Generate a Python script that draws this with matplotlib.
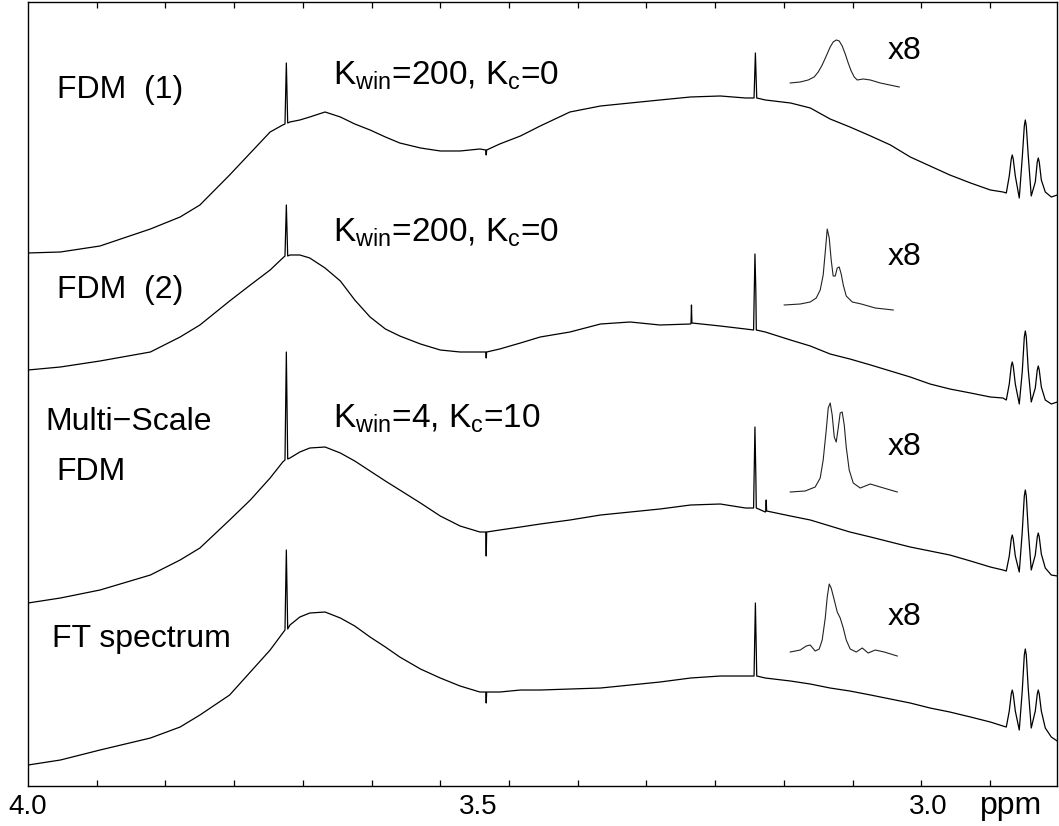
import numpy as np
import matplotlib
matplotlib.use("Agg")
import matplotlib.pyplot as plt

plt.rcParams['font.family'] = ['Liberation Sans', 'DejaVu Sans']
plt.rcParams['mathtext.fontset'] = 'custom'
plt.rcParams['mathtext.rm'] = 'Liberation Sans'
plt.rcParams['mathtext.it'] = 'Liberation Sans'

# chemical shift grid (ppm) shared by the four broad traces
ppm = [4.000, 3.964, 3.920, 3.864, 3.831, 3.809, 3.776, 3.753, 3.731, 3.717,
       3.709, 3.698, 3.687, 3.670, 3.653, 3.637, 3.620, 3.603, 3.587, 3.564,
       3.542, 3.520, 3.498, 3.476, 3.453, 3.431, 3.398, 3.364, 3.331, 3.298,
       3.264, 3.231, 3.203, 3.181, 3.153, 3.131, 3.109, 3.087, 3.064, 3.042,
       3.020, 2.998, 2.976, 2.953, 2.931, 2.917,
       2.9133, 2.9100, 2.9078, 2.9067, 2.9056, 2.9033, 2.8989, 2.8956, 2.8933,
       2.8922, 2.8911, 2.8889, 2.8856, 2.8811, 2.8789, 2.8778, 2.8767, 2.8744,
       2.8700, 2.8633, 2.8567]

# traces (already stacked, arbitrary intensity units)
fdm1 = [533, 534, 540, 557, 569, 581, 611, 633, 654, 661,
        664, 666, 669, 674, 669, 662, 656, 649, 643, 638,
        635, 635, 637, 642, 650, 660, 674, 680, 683, 686,
        689, 690, 688, 686, 683, 678, 667, 659, 650, 641,
        629, 620, 611, 603, 596, 594,
        593, 610, 627, 631, 627, 610, 588, 628, 660, 666, 660, 630, 590, 604,
        624, 628, 624, 606, 594, 589, 591]
fdm2 = [416, 419, 425, 434, 449, 461, 485, 501, 516, 528,
        531, 531, 528, 518, 505, 486, 469, 457, 450, 442,
        436, 434, 434, 437, 443, 449, 454, 462, 464, 461,
        462, 460, 457, 454, 446, 440, 432, 427, 421, 415,
        409, 402, 397, 393, 389, 388,
        386, 402, 420, 424, 420, 402, 382, 414, 449, 455, 449, 416, 384, 398,
        416, 420, 416, 399, 386, 382, 384]
msfdm = [183, 188, 196, 211, 226, 238, 266, 286, 308, 324,
         328, 334, 338, 339, 333, 325, 315, 305, 296, 283,
         270, 260, 254, 256, 259, 262, 266, 271, 274, 277,
         281, 282, 278, 274, 270, 266, 260, 254, 249, 244,
         239, 235, 231, 225, 219, 216,
         215, 230, 247, 251, 247, 230, 214, 254, 290, 296, 290, 256, 216, 231,
         249, 253, 249, 232, 218, 211, 210]
ft = [21, 26, 36, 48, 59, 71, 91, 114, 136, 153,
      161, 169, 173, 174, 168, 160, 149, 139, 129, 117,
      108, 100, 94, 94, 96, 96, 97, 98, 101, 104,
      108, 110, 110, 108, 105, 102, 98, 95, 91, 87,
      83, 78, 74, 69, 64, 60,
      59, 75, 92, 96, 92, 75, 56, 95, 131, 137, 131, 97, 58, 75,
      92, 96, 92, 75, 58, 49, 45]

# narrow lines (spikes / dips) for each trace
spk1_ppm = [3.7145, 3.713, 3.7115, 3.4915, 3.491, 3.4905, 3.1935, 3.192, 3.1905]
spk1_val = [662, 723, 663, 636, 631, 636, 688, 733, 688]
spk2_ppm = [3.7145, 3.713, 3.7115, 3.4915, 3.491, 3.4905, 3.2635, 3.263, 3.2625,
            3.194, 3.1925, 3.1915, 3.191]
spk2_val = [530, 581, 530, 434, 428, 434, 463, 481, 463, 456, 532, 495, 456]
spk3_ppm = [3.7145, 3.713, 3.7115, 3.4915, 3.491, 3.4905, 3.194, 3.1925, 3.1915,
            3.191, 3.1805, 3.180, 3.1795]
spk3_val = [326, 434, 327, 254, 230, 254, 278, 359, 310, 278, 275, 286, 275]
spk4_ppm = [3.7145, 3.713, 3.7115, 3.4915, 3.491, 3.4905, 3.1935, 3.192, 3.1905]
spk4_val = [156, 236, 157, 94, 83, 94, 110, 183, 110]

# x8 expansions
ins1_ppm = [3.1533, 3.1422, 3.1333, 3.1267, 3.1222, 3.1178, 3.1133, 3.1089, 3.1056,
            3.1022, 3.0989, 3.0956, 3.0922, 3.0889, 3.0856, 3.0822, 3.0789, 3.0722,
            3.0644, 3.0533, 3.0322]
ins1_val = [703, 704, 706, 709, 714, 721, 730, 739, 744, 746, 745, 740, 732, 723,
            715, 709, 706, 707, 706, 703, 699]
ins2_ppm = [3.1600, 3.1422, 3.1311, 3.1244, 3.1200, 3.1167, 3.1144, 3.1122, 3.1100,
            3.1078, 3.1056, 3.1033, 3.1011, 3.0989, 3.0967, 3.0944, 3.0911, 3.0844,
            3.0744, 3.0589, 3.0389]
ins2_val = [481, 482, 484, 488, 496, 511, 534, 557, 548, 526, 510, 510, 518, 519,
            512, 501, 490, 484, 482, 478, 476]
ins3_ppm = [3.1533, 3.1367, 3.1256, 3.1200, 3.1167, 3.1133, 3.1111, 3.1089, 3.1067,
            3.1044, 3.1022, 3.1000, 3.0978, 3.0956, 3.0933, 3.0911, 3.0878, 3.0833,
            3.0756, 3.0644, 3.0533, 3.0344]
ins3_val = [294, 295, 299, 308, 326, 356, 378, 383, 371, 349, 344, 358, 373, 374,
            361, 339, 316, 303, 298, 302, 299, 294]
ins4_ppm = [3.1533, 3.1422, 3.1356, 3.1311, 3.1256, 3.1211, 3.1178, 3.1144, 3.1122,
            3.1100, 3.1078, 3.1044, 3.1011, 3.0978, 3.0944, 3.0911, 3.0867, 3.0800,
            3.0733, 3.0667, 3.0589, 3.0489, 3.0344]
ins4_val = [134, 136, 140, 141, 135, 137, 146, 168, 189, 202, 198, 186, 174, 168,
            158, 146, 137, 134, 138, 133, 136, 134, 130]

names = ["FDM  (1)", "FDM  (2)", "Multi\u2212Scale", "FT spectrum"]
params = ["K$_{\\rm win}$=200, K$_{\\rm c}$=0", "K$_{\\rm win}$=200, K$_{\\rm c}$=0",
          "K$_{\\rm win}$=4, K$_{\\rm c}$=10"]
tick_ppm = [4.0, 3.5, 3.0]
tick_lab = ["4.0", "3.5", "3.0"]


def merge(xa, ya, xb, yb):
    x = np.concatenate([xa, xb])
    y = np.concatenate([ya, yb])
    order = np.argsort(-x)
    return x[order], y[order]


fig = plt.figure(figsize=(10.59, 8.26), dpi=100)
ax = fig.add_axes([0.0264, 0.0484, 0.9717, 0.9492])

traces = [(fdm1, spk1_ppm, spk1_val), (fdm2, spk2_ppm, spk2_val),
          (msfdm, spk3_ppm, spk3_val), (ft, spk4_ppm, spk4_val)]
for vals, sp, sv in traces:
    x, y = merge(np.array(ppm), np.array(vals, float), np.array(sp), np.array(sv, float))
    ax.plot(x, y, color='black', lw=0.9)

for ip, iv in [(ins1_ppm, ins1_val), (ins2_ppm, ins2_val),
               (ins3_ppm, ins3_val), (ins4_ppm, ins4_val)]:
    ax.plot(ip, iv, color='#222222', lw=0.8)

fs = 23
ax.text(3.968, 688, names[0], fontsize=fs)
ax.text(3.968, 488, names[1], fontsize=fs)
ax.text(3.981, 356, names[2], fontsize=fs)
ax.text(3.968, 306, "FDM", fontsize=fs)
ax.text(3.973, 139, names[3], fontsize=fs)

for yb, s in zip([701, 544, 358], params):
    ax.text(3.661, yb, s, fontsize=24)

for yb in [727, 521, 331, 161]:
    ax.text(3.045, yb, "x8", fontsize=fs)

ax.set_xlim(4.0, 2.857)
ax.set_ylim(0, 784)
ax.set_yticks([])
ax.set_xticks(tick_ppm)
ax.set_xticklabels(tick_lab, fontsize=20)
ax.tick_params(axis='x', which='major', length=0, pad=6)
ax.set_xticks([4.0 - k * 0.07633 for k in range(15)], minor=True)
ax.tick_params(axis='x', which='minor', direction='in', length=4, top=True, width=0.9)
for sp in ax.spines.values():
    sp.set_linewidth(1.0)

ax.text(0.955, -0.006, "ppm", transform=ax.transAxes, fontsize=fs,
        ha='center', va='top')

fig.savefig("out.png", dpi=100)
